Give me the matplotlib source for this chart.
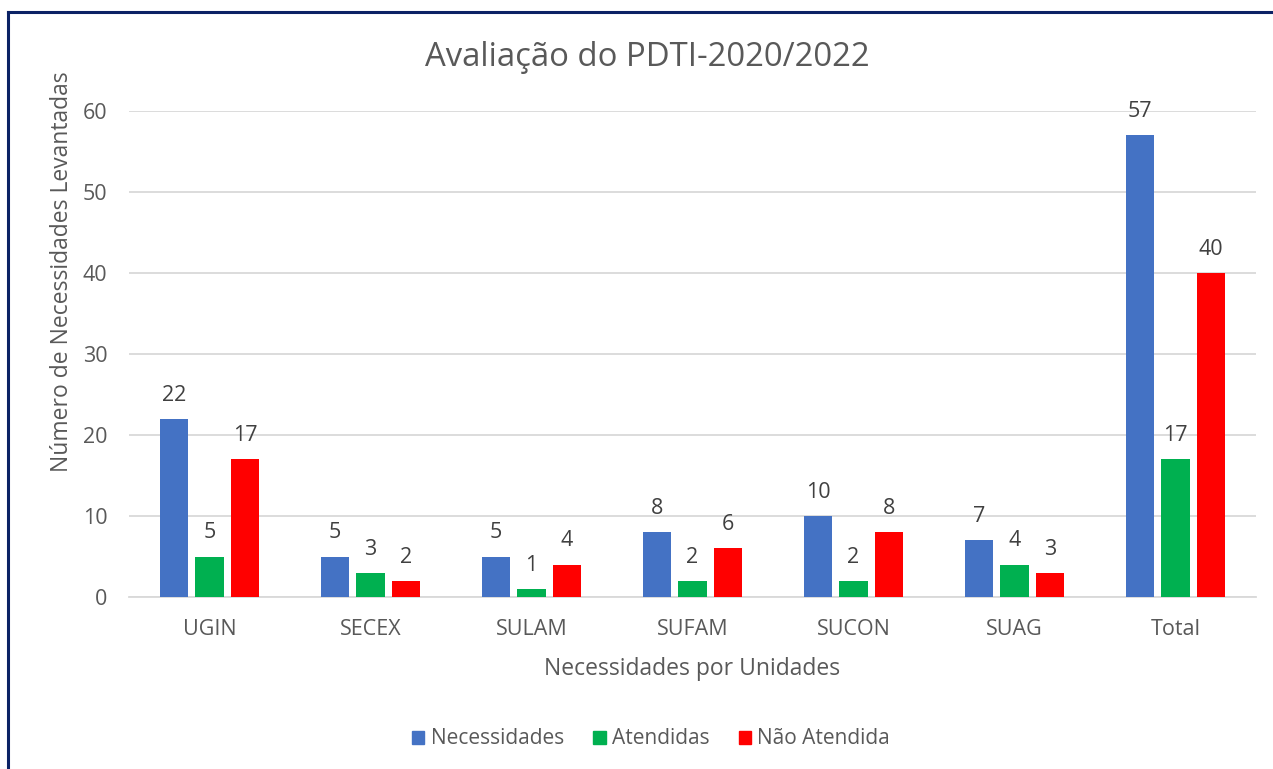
import matplotlib
matplotlib.use("Agg")
import matplotlib.pyplot as plt
from matplotlib.patches import Rectangle
from matplotlib.lines import Line2D
import numpy as np

plt.rcParams['font.family'] = ['Open Sans', 'DejaVu Sans']

categories = ["UGIN", "SECEX", "SULAM", "SUFAM", "SUCON", "SUAG", "Total"]
necessidades = [22, 5, 5, 8, 10, 7, 57]
atendidas = [5, 3, 1, 2, 2, 4, 17]
nao_atendidas = [17, 2, 4, 6, 8, 3, 40]
series_names = ["Necessidades", "Atendidas", "Não Atendida"]
colors = ["#4472C4", "#00B050", "#FF0000"]
yticks = [0, 10, 20, 30, 40, 50, 60]

W, H = 1273, 769
fig = plt.figure(figsize=(W / 100, H / 100), dpi=100)
ax = fig.add_axes([129 / W, 1 - 597 / H, (1256 - 129) / W, (597 - 111) / H])

text_color = "#595959"
x = np.arange(len(categories))
bw = 0.174
step = 0.22
for i, (vals, c) in enumerate(zip([necessidades, atendidas, nao_atendidas], colors)):
    pos = x + (i - 1) * step
    ax.bar(pos, vals, width=bw, color=c, label=series_names[i], zorder=3)
    for p, v in zip(pos, vals):
        ax.annotate(str(v), (p, v), xytext=(0, 17), textcoords="offset points",
                    ha="center", va="center", fontsize=15.5, color="#404040")

ax.set_xlim(-0.5, len(categories) - 0.5)
ax.set_ylim(0, 60)
ax.set_yticks(yticks)
ax.set_xticks(x)
ax.set_xticklabels(categories)
ax.tick_params(axis="both", length=0, labelsize=15.5, colors=text_color)
ax.tick_params(axis="y", pad=15.5)
ax.tick_params(axis="x", pad=15.5)
ax.yaxis.grid(True, color="#D9D9D9", linewidth=1.3, zorder=0)
for s in ["top", "right", "left"]:
    ax.spines[s].set_visible(False)
ax.spines["bottom"].set_color("#D9D9D9")
ax.spines["bottom"].set_linewidth(1.3)

fig.text(692 / W, 1 - 669 / H, "Necessidades por Unidades", ha="center", va="center",
         fontsize=16.5, color=text_color)
fig.text(62 / W, 1 - 272 / H, "Número de Necessidades Levantadas", ha="center", va="center",
         rotation=90, fontsize=16.5, color=text_color)
fig.text(647 / W, 1 - 57 / H, "Avaliação do PDTI-2020/2022", ha="center", va="center",
         fontsize=23.7, color=text_color)

handles = [Rectangle((0, 0), 1, 1, color=c) for c in colors]
leg = fig.legend(handles, series_names, loc="center", bbox_to_anchor=(651 / W, 1 - 739 / H),
                 ncol=3, frameon=False, fontsize=15, handlelength=0.6, handleheight=0.6,
                 handletextpad=0.3, columnspacing=1.4)
for t in leg.get_texts():
    t.set_color(text_color)

# border
fig.add_artist(Line2D([8 / W, 8 / W], [0, 1 - 12 / H], color="#0B2265", linewidth=2.2,
                      transform=fig.transFigure))
fig.add_artist(Line2D([8 / W, 1], [1 - 12 / H, 1 - 12 / H], color="#0B2265", linewidth=2.2,
                      transform=fig.transFigure))

fig.savefig("out.png", dpi=100, facecolor="white")
